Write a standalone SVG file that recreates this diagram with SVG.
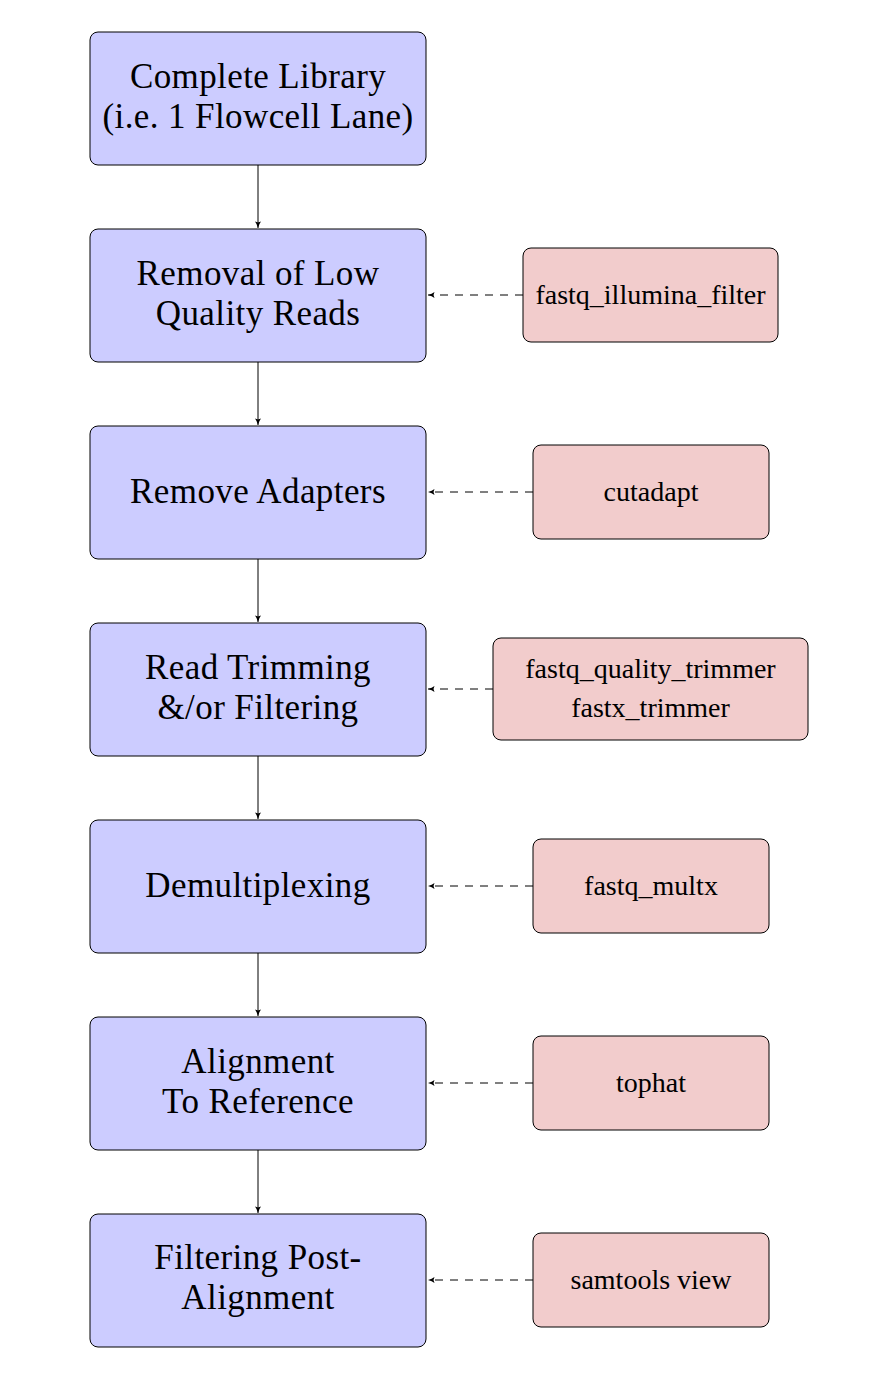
<svg xmlns="http://www.w3.org/2000/svg" width="877" height="1395" viewBox="0 0 877 1395">
<style>
.step{fill:#ccccff;stroke:#000;stroke-width:1}
.tool{fill:#f2cccc;stroke:#000;stroke-width:1}
.st{font-family:"Liberation Serif","DejaVu Serif",serif;font-size:35px;letter-spacing:0.4px;text-anchor:middle;fill:#000}
.tt{font-family:"Liberation Serif","DejaVu Serif",serif;font-size:28px;text-anchor:middle;fill:#000}
.solid{stroke:#000;stroke-width:1;fill:none}
.dash{stroke:#000;stroke-width:1;fill:none;stroke-dasharray:8 7}
</style>
<defs>
<marker id="ah" markerWidth="8" markerHeight="8" refX="7" refY="4" orient="auto" markerUnits="userSpaceOnUse">
<path d="M0.5,1 Q3,3 7,4 Q3,5 0.5,7 L1.5,4 Z" fill="#000"/>
</marker>
</defs>
<rect width="877" height="1395" fill="#fff"/>
<g id="connectors">
<line class="solid" x1="258" y1="165" x2="258" y2="228" marker-end="url(#ah)"/>
<line class="solid" x1="258" y1="362" x2="258" y2="425" marker-end="url(#ah)"/>
<line class="solid" x1="258" y1="559" x2="258" y2="622" marker-end="url(#ah)"/>
<line class="solid" x1="258" y1="756" x2="258" y2="819" marker-end="url(#ah)"/>
<line class="solid" x1="258" y1="953" x2="258" y2="1016" marker-end="url(#ah)"/>
<line class="solid" x1="258" y1="1150" x2="258" y2="1213" marker-end="url(#ah)"/>
<line class="dash" x1="523" y1="295" x2="428" y2="295" marker-end="url(#ah)"/>
<line class="dash" x1="533" y1="492" x2="428" y2="492" marker-end="url(#ah)"/>
<line class="dash" x1="493" y1="689" x2="428" y2="689" marker-end="url(#ah)"/>
<line class="dash" x1="533" y1="886" x2="428" y2="886" marker-end="url(#ah)"/>
<line class="dash" x1="533" y1="1083" x2="428" y2="1083" marker-end="url(#ah)"/>
<line class="dash" x1="533" y1="1280" x2="428" y2="1280" marker-end="url(#ah)"/>
</g>
<g id="n1"><rect class="step" x="90" y="32" width="336" height="133" rx="8"/>
<text class="st" x="258" y="88">Complete Library</text><text class="st" x="258" y="128">(i.e.  1 Flowcell Lane)</text></g>
<g id="n2"><rect class="step" x="90" y="229" width="336" height="133" rx="8"/>
<text class="st" x="258" y="285">Removal of Low</text><text class="st" x="258" y="325">Quality Reads</text></g>
<g id="n3"><rect class="step" x="90" y="426" width="336" height="133" rx="8"/>
<text class="st" x="258" y="503">Remove Adapters</text></g>
<g id="n4"><rect class="step" x="90" y="623" width="336" height="133" rx="8"/>
<text class="st" x="258" y="679">Read Trimming</text><text class="st" x="258" y="719">&amp;/or Filtering</text></g>
<g id="n5"><rect class="step" x="90" y="820" width="336" height="133" rx="8"/>
<text class="st" x="258" y="897">Demultiplexing</text></g>
<g id="n6"><rect class="step" x="90" y="1017" width="336" height="133" rx="8"/>
<text class="st" x="258" y="1073">Alignment</text><text class="st" x="258" y="1113">To Reference</text></g>
<g id="n7"><rect class="step" x="90" y="1214" width="336" height="133" rx="8"/>
<text class="st" x="258" y="1269">Filtering Post-</text><text class="st" x="258" y="1309">Alignment</text></g>
<g id="t1"><rect class="tool" x="523" y="248" width="255" height="94" rx="8"/>
<text class="tt" x="650.5" y="304">fastq_illumina_filter</text></g>
<g id="t2"><rect class="tool" x="533" y="445" width="236" height="94" rx="8"/>
<text class="tt" x="651" y="501">cutadapt</text></g>
<g id="t3"><rect class="tool" x="493" y="638" width="315" height="102" rx="8"/>
<text class="tt" x="650.5" y="678">fastq_quality_trimmer</text><text class="tt" x="650.5" y="717">fastx_trimmer</text></g>
<g id="t4"><rect class="tool" x="533" y="839" width="236" height="94" rx="8"/>
<text class="tt" x="651" y="895">fastq_multx</text></g>
<g id="t5"><rect class="tool" x="533" y="1036" width="236" height="94" rx="8"/>
<text class="tt" x="651" y="1092">tophat</text></g>
<g id="t6"><rect class="tool" x="533" y="1233" width="236" height="94" rx="8"/>
<text class="tt" x="651" y="1289">samtools view</text></g>
</svg>
